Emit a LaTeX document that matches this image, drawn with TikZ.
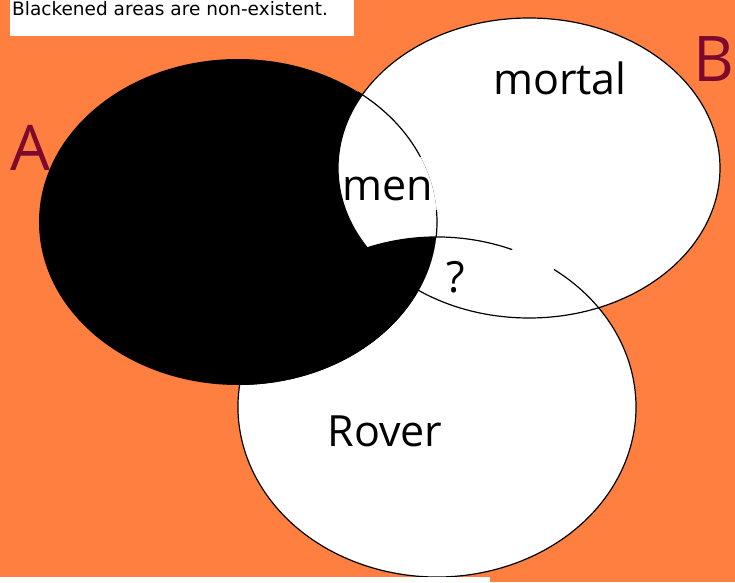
\documentclass[tikz,border=0pt]{standalone}
\usepackage{fontspec}
\setmainfont{Open Sans}
\newfontfamily\notefont{DejaVu Sans}

\definecolor{paintorange}{RGB}{255,127,64}
\definecolor{labelred}{RGB}{125,10,45}

% the three sets (pixel units)
\newcommand{\areaA}{(238,360) ellipse [x radius=199pt, y radius=163pt]}
\newcommand{\areaB}{(529,414) ellipse [x radius=191pt, y radius=150pt]}
\newcommand{\areaC}{(437,175) ellipse [x radius=199pt, y radius=170pt]}

\tikzset{
  outline/.style={black, line width=1.2pt},
  termlabel/.style={font=\fontsize{43}{50}\selectfont, inner sep=0pt, anchor=base},
  setname/.style={font=\fontsize{63}{70}\selectfont, text=labelred, inner sep=0pt, anchor=base west},
}

\begin{document}
\begin{tikzpicture}[x=1pt,y=1pt]
  \useasboundingbox (0,0) rectangle (735,582);
  \fill[paintorange] (0,0) rectangle (735,582);

  \fill[white] \areaB;
  \fill[white] \areaC;
  \fill[black] \areaA;
  \begin{scope}
    \clip \areaA;
    \clip \areaB;
    \fill[white] (0,0) rectangle (735,582);
  \end{scope}
  \begin{scope}
    \clip \areaA;
    \clip \areaC;
    \fill[black] (0,0) rectangle (735,582);
  \end{scope}

  % outlines
  \draw[outline] \areaB;
  \draw[outline] (437,175) ++(67.8:199pt and 170pt)
    arc[start angle=67.8, end angle=414, x radius=199pt, y radius=170pt];
  \draw[outline] (238,360) ++(53:199pt and 163pt)
    arc[start angle=53, end angle=23.5, x radius=199pt, y radius=163pt];
  \draw[outline] (238,360) ++(4.2:199pt and 163pt)
    arc[start angle=4.2, end angle=-5.3, x radius=199pt, y radius=163pt];
  \fill[white] (0,0) rectangle (490,5);

  % caption
  \fill[white] (10,546) rectangle (354,582);
  \node[font=\notefont\fontsize{18.5}{22}\selectfont, inner sep=0pt, anchor=base west]
    (note) at (12,566) {Blackened areas are non-existent.};

  \node[setname] (nameA) at (10,412) {A};
  \node[setname] (nameB) at (693,500) {B};
  \node[termlabel] (mortal) at (560,487) {mortal};
  \node[termlabel] (men) at (388,382) {men};
  \node[termlabel] (rover) at (385,136) {Rover};
  \node[termlabel] (unknown) at (456,290) {?};
\end{tikzpicture}
\end{document}
